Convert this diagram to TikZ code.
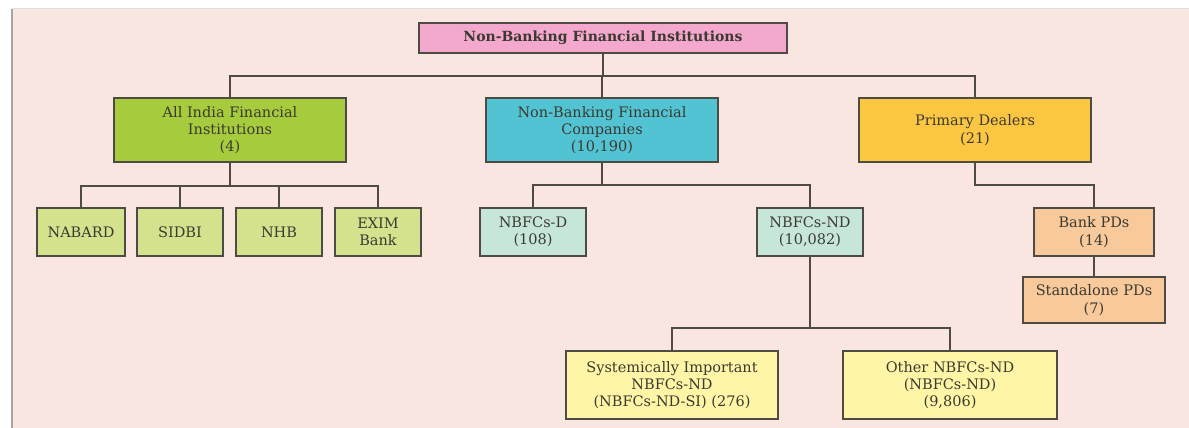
\documentclass[tikz,border=0pt]{standalone}
\usepackage{fontspec}
\setmainfont{DejaVu Serif}
\usetikzlibrary{calc}
\definecolor{bgpink}{HTML}{F9E6E0}
\definecolor{edgegray}{HTML}{4E4A44}
\definecolor{txt}{HTML}{3C3A30}
\definecolor{rootpink}{HTML}{F4A8CE}
\definecolor{aifigreen}{HTML}{A6CC3E}
\definecolor{nbfccyan}{HTML}{52C3D3}
\definecolor{pdyellow}{HTML}{FBC743}
\definecolor{lgreen}{HTML}{D4E18D}
\definecolor{lteal}{HTML}{C7E6DA}
\definecolor{peach}{HTML}{F8C99B}
\definecolor{lyellow}{HTML}{FEF5A6}
\begin{document}
\begin{tikzpicture}[x=1pt,y=-1pt,
  box/.style={draw=edgegray,line width=1.4pt,text=txt,align=center,inner sep=0pt,
    font=\fontsize{14.5}{17.3}\selectfont},
  conn/.style={draw=edgegray,line width=1.4pt}]
\useasboundingbox (0,0) rectangle (1189,428);
\fill[white] (0,0) rectangle (1189,428);
\fill[bgpink] (12,9) rectangle (1189,428);
\draw[gray!70,line width=1.6pt] (12,9) -- (12,428);
\draw[gray!25,line width=0.8pt] (12,8.5) -- (1189,8.5);

\node[box,fill=rootpink,minimum width=368pt,minimum height=30pt,font=\bfseries\fontsize{14}{16}\selectfont] (root) at (603,38) {Non-Banking Financial Institutions};

\node[box,fill=aifigreen,minimum width=232pt,minimum height=64pt] (aifi) at (230,130) {All India Financial\\Institutions\\(4)};
\node[box,fill=nbfccyan,minimum width=232pt,minimum height=64pt] (nbfc) at (602,130) {Non-Banking Financial\\Companies\\(10,190)};
\node[box,fill=pdyellow,minimum width=232pt,minimum height=64pt] (pd) at (975,130) {Primary Dealers\\(21)};

\node[box,fill=lgreen,minimum width=88pt,minimum height=48pt] (nabard) at (81,232) {NABARD};
\node[box,fill=lgreen,minimum width=86pt,minimum height=48pt] (sidbi) at (180,232) {SIDBI};
\node[box,fill=lgreen,minimum width=86pt,minimum height=48pt] (nhb) at (279,232) {NHB};
\node[box,fill=lgreen,minimum width=86pt,minimum height=48pt] (exim) at (378,232) {EXIM\\Bank};

\node[box,fill=lteal,minimum width=106pt,minimum height=48pt] (nbfcd) at (533,232) {NBFCs-D\\(108)};
\node[box,fill=lteal,minimum width=106pt,minimum height=48pt] (nbfcnd) at (810,232) {NBFCs-ND\\(10,082)};

\node[box,fill=peach,minimum width=120pt,minimum height=48pt] (bankpd) at (1094,232) {Bank PDs\\(14)};
\node[box,fill=peach,minimum width=142pt,minimum height=46pt] (standpd) at (1094,300) {Standalone PDs\\(7)};

\node[box,fill=lyellow,minimum width=212pt,minimum height=68pt] (sys) at (672,385) {Systemically Important\\NBFCs-ND\\(NBFCs-ND-SI) (276)};
\node[box,fill=lyellow,minimum width=214pt,minimum height=68pt] (other) at (950,385) {Other NBFCs-ND\\(NBFCs-ND)\\(9,806)};

\coordinate (b1) at (0,76);
\coordinate (b2) at (0,186);
\coordinate (b3) at (0,185);
\coordinate (b4) at (0,328);

\draw[conn] (root.south) -- (root.south |- b1);
\draw[conn] (aifi.north) |- (b1 -| pd.north) -- (pd.north);
\draw[conn] (nbfc.north) -- (nbfc.north |- b1);

\draw[conn] (aifi.south) -- (aifi.south |- b2);
\draw[conn] (nabard.north) |- (b2 -| exim.north) -- (exim.north);
\draw[conn] (sidbi.north) -- (sidbi.north |- b2);
\draw[conn] (nhb.north) -- (nhb.north |- b2);

\draw[conn] (nbfc.south) -- (nbfc.south |- b3);
\draw[conn] (nbfcd.north) |- (b3 -| nbfcnd.north) -- (nbfcnd.north);

\draw[conn] (pd.south) |- (b3 -| bankpd.north) -- (bankpd.north);
\draw[conn] (bankpd.south) -- (standpd.north);

\draw[conn] (nbfcnd.south) -- (nbfcnd.south |- b4);
\draw[conn] (sys.north) |- (b4 -| other.north) -- (other.north);
\end{tikzpicture}
\end{document}
